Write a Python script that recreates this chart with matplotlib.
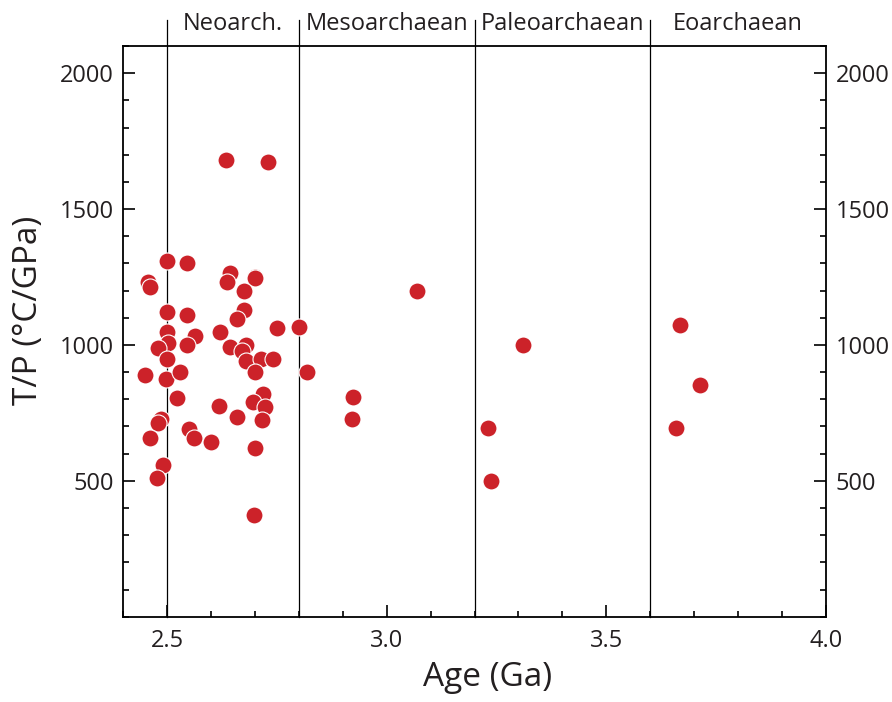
import matplotlib
matplotlib.use("Agg")
import matplotlib.pyplot as plt
from matplotlib.ticker import MultipleLocator

# Metamorphic thermal gradient (T/P) versus age for Archaean localities
age_ga = [2.635, 2.730, 2.500, 2.546, 2.456, 2.460, 2.644, 2.636, 2.699, 2.701,
          2.676, 2.500, 2.546, 2.674, 2.660, 2.751, 2.800, 2.500, 2.564, 2.621,
          2.501, 2.480, 2.546, 2.500, 2.644, 2.680, 2.670, 2.680, 2.714, 2.741,
          2.699, 2.819, 2.450, 2.498, 2.530, 2.522, 2.619, 2.718, 2.695, 2.722,
          2.659, 2.715, 2.486, 2.480, 2.460, 2.549, 2.560, 2.600, 2.699, 2.490,
          2.477, 2.698, 2.923, 2.920, 3.070, 3.311, 3.230, 3.238, 3.669, 3.713,
          3.658]
tp_c_per_gpa = [1682, 1673, 1310, 1301, 1232, 1213, 1266, 1232, 1250, 1245,
                1197, 1123, 1110, 1128, 1097, 1064, 1066, 1046, 1033, 1048,
                1007, 987, 999, 950, 993, 999, 978, 940, 950, 947,
                901, 900, 889, 876, 901, 805, 775, 821, 790, 772,
                735, 723, 729, 711, 658, 691, 659, 641, 619, 558,
                511, 374, 807, 729, 1198, 998, 693, 499, 1072, 854,
                695]

era_bounds = [2.5, 2.8, 3.2, 3.6]
era_names = ["Neoarch.", "Mesoarchaean", "Paleoarchaean", "Eoarchaean"]
era_centres = [2.65, 3.0, 3.4, 3.8]

ink = "#231f20"
dot = "#cc2229"

plt.rcParams["font.family"] = ["Open Sans", "DejaVu Sans"]

fig = plt.figure(figsize=(8.92, 7.02), dpi=100)
ax = fig.add_axes([0.1382, 0.1215, 0.7876, 0.8130])

ax.scatter(age_ga, tp_c_per_gpa, s=150, color=dot, edgecolors="white",
           linewidths=0.8, zorder=3)

for b in era_bounds:
    ax.axvline(b, ymin=0, ymax=1.046, color="black", lw=0.9, clip_on=False,
               zorder=2)
for c, name in zip(era_centres, era_names):
    ax.text(c, 1.028, name, transform=ax.get_xaxis_transform(), ha="center",
            va="baseline", fontsize=17, color=ink)

ax.set_xlim(2.4, 4.0)
ax.set_ylim(0, 2100)
ax.xaxis.set_major_locator(MultipleLocator(0.5))
ax.xaxis.set_minor_locator(MultipleLocator(0.1))
ax.yaxis.set_major_locator(MultipleLocator(500))
ax.yaxis.set_minor_locator(MultipleLocator(100))
ax.set_yticks([500, 1000, 1500, 2000])
ax.xaxis.set_major_formatter(plt.FuncFormatter(lambda v, p: f"{v:.1f}"))

ax.tick_params(axis="both", which="both", direction="in", colors="black",
               labelcolor=ink, labelsize=17)
ax.tick_params(axis="x", which="both", top=False, pad=9)
ax.tick_params(axis="y", which="both", left=True, right=True,
               labelleft=True, labelright=True, pad=7)
ax.tick_params(which="major", length=8.5, width=1.2)
ax.tick_params(which="minor", length=4.5, width=1.2)

for sp in ax.spines.values():
    sp.set_linewidth(1.3)
    sp.set_color("black")

ax.set_xlabel("Age (Ga)", fontsize=24, color=ink)
ax.xaxis.set_label_coords(0.518, -0.078)
ax.set_ylabel("T/P (°C/GPa)", fontsize=24, color=ink)
ax.yaxis.set_label_coords(-0.135, 0.537)
ax.yaxis.label.set_va("center")

fig.savefig("out.png", dpi=100)
